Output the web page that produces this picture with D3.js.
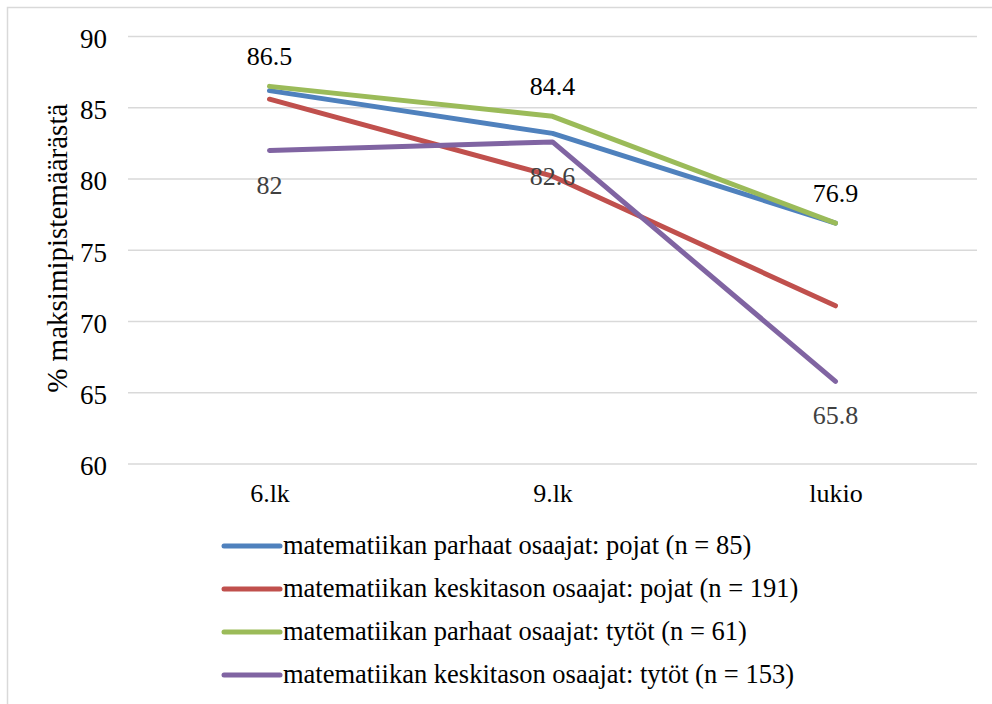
<!DOCTYPE html>
<html>
<head>
<meta charset="utf-8">
<script src="https://cdn.jsdelivr.net/npm/d3@7"></script>
<style>
  html, body { margin: 0; padding: 0; background: #fff; }
  svg { display: block; }
  text { font-family: "Liberation Serif", "DejaVu Serif", serif; }
</style>
</head>
<body>
<svg id="chart" width="992" height="704"></svg>
<script>
// Categories (school stage)
const categories = ["6.lk", "9.lk", "lukio"];

// Series values: % of maximum score
const boysTop = [86.2, 83.2, 76.9];
const boysMid = [85.6, 80.2, 71.1];
const girlsTop = [86.5, 84.4, 76.9];
const girlsMid = [82.0, 82.6, 65.8];

const seriesNames = [
  "matematiikan parhaat osaajat: pojat (n = 85)",
  "matematiikan keskitason osaajat: pojat (n = 191)",
  "matematiikan parhaat osaajat: tytöt (n = 61)",
  "matematiikan keskitason osaajat: tytöt (n = 153)"
];
const seriesColors = ["#4F81BD", "#C0504D", "#9BBB59", "#8064A2"];

const yTicks = [60, 65, 70, 75, 80, 85, 90];
const yTitle = "% maksimipistemäärästä";

const series = [boysTop, boysMid, girlsTop, girlsMid].map((vals, i) => ({
  name: seriesNames[i], color: seriesColors[i], values: vals
}));

const svg = d3.select("#chart");

// outer chart frame
svg.append("path")
  .attr("d", "M7.5,704 V7.5 H992")
  .attr("fill", "none").attr("stroke", "#d9d9d9").attr("stroke-width", 1.5);

const plot = { left: 128, right: 977, top: 36.5, bottom: 464 };

const x = d3.scalePoint().domain(categories).range([plot.left, plot.right]).padding(0.5);
const y = d3.scaleLinear().domain([60, 90]).range([plot.bottom, plot.top]);

// horizontal gridlines
svg.append("g")
  .selectAll("line").data(yTicks).join("line")
  .attr("x1", plot.left).attr("x2", plot.right)
  .attr("y1", d => y(d)).attr("y2", d => y(d))
  .attr("stroke", "#d9d9d9").attr("stroke-width", 1.5);

// y axis
const yAxis = d3.axisLeft(y).tickValues(yTicks).tickSize(0).tickPadding(0);
const yg = svg.append("g").attr("transform", `translate(${plot.left - 21},0)`).call(yAxis);
yg.select(".domain").remove();
yg.selectAll("text").attr("font-size", 27).attr("fill", "#000").attr("dy", "0.4em")
  .style("font-family", "'Liberation Serif', serif");

// x axis
const xAxis = d3.axisBottom(x).tickSize(0).tickPadding(0);
const xg = svg.append("g").attr("transform", `translate(0,${plot.bottom + 20})`).call(xAxis);
xg.select(".domain").remove();
xg.selectAll("text").attr("font-size", 26).attr("fill", "#000")
  .style("font-family", "'Liberation Serif', serif");

// y axis title
svg.append("text")
  .attr("transform", `translate(57,${(plot.top + plot.bottom) / 2 - 2}) rotate(-90)`)
  .attr("text-anchor", "middle")
  .attr("dy", "0.35em")
  .attr("font-size", 29)
  .attr("fill", "#000")
  .text(yTitle);

// lines
const line = d3.line().x((d, i) => x(categories[i])).y(d => y(d));
svg.append("g").selectAll("path").data(series).join("path")
  .attr("d", d => line(d.values))
  .attr("fill", "none")
  .attr("stroke", d => d.color)
  .attr("stroke-width", 5)
  .attr("stroke-linecap", "round")
  .attr("stroke-linejoin", "round");

// value labels: top girls above, mid girls below
const fmt = d => d3.format(".1f")(d).replace(/\.0$/, "");
const labelGroup = svg.append("g").attr("font-size", 26).attr("text-anchor", "middle");
labelGroup.selectAll("text.above").data(girlsTop).join("text")
  .attr("class", "above")
  .attr("x", (d, i) => x(categories[i]))
  .attr("y", d => y(d) - 30)
  .attr("dy", "0.35em")
  .attr("fill", "#000")
  .text(fmt);
labelGroup.selectAll("text.below").data(girlsMid).join("text")
  .attr("class", "below")
  .attr("x", (d, i) => x(categories[i]))
  .attr("y", d => y(d) + 34)
  .attr("dy", "0.35em")
  .attr("fill", "#404040")
  .text(fmt);

// legend
const legend = svg.append("g").attr("transform", "translate(224,546)");
const row = legend.selectAll("g").data(series).join("g")
  .attr("transform", (d, i) => `translate(0,${i * 43})`);
row.append("line")
  .attr("x1", 0).attr("x2", 56).attr("y1", 0).attr("y2", 0)
  .attr("stroke", d => d.color).attr("stroke-width", 5).attr("stroke-linecap", "round");
row.append("text")
  .attr("x", 59).attr("dy", "0.32em")
  .attr("font-size", 26.5).attr("fill", "#000")
  .text(d => d.name);
</script>
</body>
</html>
